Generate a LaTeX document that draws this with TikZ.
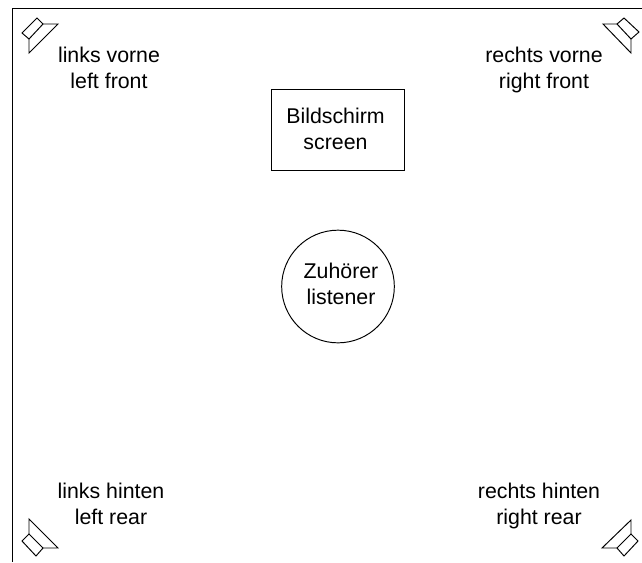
\documentclass[tikz,border=0pt]{standalone}
\usepackage{fontspec}
\setmainfont{Liberation Sans}
\usetikzlibrary{positioning}
\tikzset{
    label text/.style={align=center, inner sep=0pt, font=\fontsize{16}{19.5}\selectfont},
    speaker/.style={line join=miter},
}
\begin{document}
\begin{tikzpicture}[x=0.75pt, y=-0.75pt, line width=0.72pt]
    \useasboundingbox (0,0) rectangle (642,562);
    % room outline
    \coordinate (cornerTop) at (642,8);
    \coordinate (cornerLeft) at (12,8);
    \coordinate (cornerBottom) at (12,562);
    \draw (cornerTop) -- (cornerLeft) -- (cornerBottom);
    \node[draw, inner sep=0pt, minimum width=99.5pt, minimum height=60.5pt] (screen) at (338.3,130) {};
    \node[draw, inner sep=0pt, circle, minimum size=84.5pt] (listener) at (338,286.5) {};
    \node[label text] (screenText) at (335.5,129.3) {Bildschirm\\screen};
    \node[label text] (listenerText) at (341,284.3) {Zuh\"orer\\listener};
    \node[label text] (leftFront) at (109,68.2) {links vorne\\left front};
    \node[label text] (rightFront) at (544,70) {rechts vorne\\right front};
    \node[label text] (leftRear) at (111,504) {links hinten\\left rear};
    \node[label text] (rightRear) at (539,506) {rechts hinten\\right rear};
    % speakers
    \draw[speaker] (37,18) -- (22,33) -- (29,39) -- (43,24) -- cycle;
    \draw[speaker] (43,24) -- (58,24) -- (29,53) -- (29,39);
    \draw[speaker] (624,18) -- (639,32) -- (631,39) -- (617,24) -- cycle;
    \draw[speaker] (617,24) -- (603,24) -- (631,53) -- (631,39);
    \draw[speaker] (29,534) -- (22,541) -- (36,556) -- (43,548) -- cycle;
    \draw[speaker] (29,534) -- (29,519) -- (58,548) -- (43,548);
    \draw[speaker] (631,534) -- (638,541) -- (624,556) -- (617,548) -- cycle;
    \draw[speaker] (631,534) -- (631,520) -- (602,548) -- (617,548);
\end{tikzpicture}
\end{document}
